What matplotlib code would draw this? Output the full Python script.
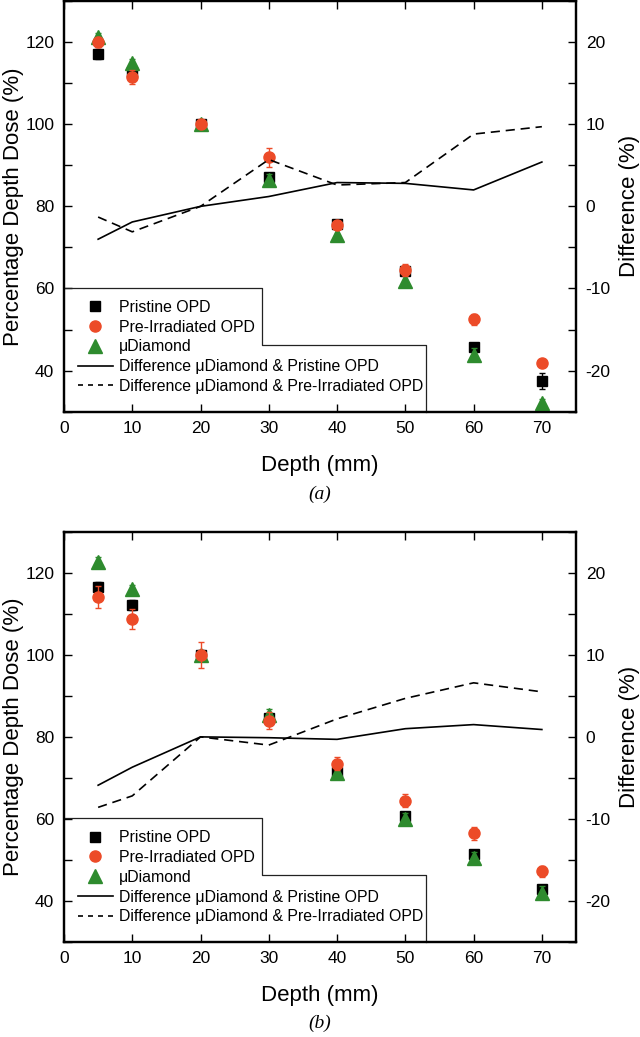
import matplotlib
matplotlib.use('Agg')

import matplotlib.pyplot as plt
from matplotlib.ticker import MultipleLocator
from matplotlib.lines import Line2D

plt.rcParams['font.family'] = ['Liberation Sans', 'DejaVu Sans']
plt.rcParams['axes.unicode_minus'] = False

# ---------------- data ----------------
depth = [5, 10, 20, 30, 40, 50, 60, 70]

# panel (a)
a_pristine = [117.2, 112.8, 100.0, 87.2, 75.8, 64.2, 45.7, 37.4]
a_pristine_err = [1.2, 1.0, 0.8, 1.0, 0.8, 1.0, 1.0, 1.9]
a_preirr = [120.0, 111.6, 100.0, 92.0, 75.4, 64.5, 52.5, 41.9]
a_preirr_err = [1.2, 1.7, 1.0, 2.3, 1.0, 1.5, 1.3, 0.8]
a_diamond = [121.2, 114.8, 100.0, 86.4, 73.0, 61.9, 43.9, 32.2]
a_diamond_err = [1.0, 1.0, 0.8, 1.5, 1.5, 1.5, 1.5, 1.0]
a_diff_pristine = [-4.0, -1.9, 0.0, 1.2, 2.9, 2.8, 2.0, 5.4]
a_diff_preirr = [-1.3, -3.1, 0.0, 5.7, 2.6, 2.9, 8.8, 9.7]

# panel (b)
b_pristine = [116.7, 112.1, 100.0, 84.7, 71.5, 60.7, 51.4, 42.9]
b_pristine_err = [1.2, 1.2, 1.2, 1.0, 0.8, 1.0, 1.0, 1.0]
b_preirr = [114.2, 108.8, 100.0, 84.0, 73.4, 64.4, 56.5, 47.2]
b_preirr_err = [2.7, 2.5, 3.1, 2.0, 1.6, 1.6, 1.6, 1.3]
b_diamond = [122.8, 116.1, 100.0, 85.4, 71.1, 60.0, 50.4, 42.0]
b_diamond_err = [1.0, 1.0, 1.0, 1.5, 1.5, 1.5, 1.5, 1.5]
b_diff_pristine = [-5.9, -3.7, 0.0, -0.1, -0.3, 1.0, 1.5, 0.9]
b_diff_preirr = [-8.6, -7.2, 0.0, -1.0, 2.2, 4.7, 6.6, 5.5]

labels = ['Pristine OPD', 'Pre-Irradiated OPD', 'μDiamond',
          'Difference μDiamond & Pristine OPD',
          'Difference μDiamond & Pre-Irradiated OPD']

RED = '#EC4B28'
GREEN = '#2E8B2E'


def draw_panel(fig, rect, pristine, pristine_err, preirr, preirr_err,
               diamond, diamond_err, diff_pristine, diff_preirr):
    ax = fig.add_axes(rect)
    ax2 = ax.twinx()

    ax.errorbar(depth, pristine, yerr=pristine_err, fmt='s', ms=7,
                color='black', ecolor='black', elinewidth=1, capsize=2.5,
                capthick=1, zorder=3)
    ax.errorbar(depth, diamond, yerr=diamond_err, fmt='^', ms=9.5,
                color=GREEN, ecolor=GREEN, elinewidth=1, capsize=2.5,
                capthick=1, zorder=4)
    ax.errorbar(depth, preirr, yerr=preirr_err, fmt='o', ms=8,
                color=RED, ecolor=RED, elinewidth=1, capsize=2.5,
                capthick=1, zorder=5)

    ax2.plot(depth, diff_pristine, color='black', lw=1.2)
    ax2.plot(depth, diff_preirr, color='black', lw=1.2, ls='--', dashes=(5.5, 3.5))

    ax.set_xlim(0, 75)
    ax.set_ylim(30, 130)
    ax2.set_ylim(-25, 25)
    ax.xaxis.set_major_locator(MultipleLocator(10))
    ax.yaxis.set_major_locator(MultipleLocator(20))
    ax.yaxis.set_minor_locator(MultipleLocator(10))
    ax2.yaxis.set_major_locator(MultipleLocator(10))
    ax2.yaxis.set_minor_locator(MultipleLocator(5))

    ax.tick_params(which='both', direction='in', length=5.5, width=1,
                   top=True, right=False, labelsize=12.5, pad=7)
    ax2.tick_params(which='both', direction='in', length=5.5, width=1,
                    labelsize=12.5, pad=7)
    for a in (ax, ax2):
        for s in a.spines.values():
            s.set_linewidth(1.6)

    ax.set_xlabel('Depth (mm)', fontsize=16)
    ax.xaxis.set_label_coords(0.5, -0.106)
    ax.set_ylabel('Percentage Depth Dose (%)', fontsize=16, va='center')
    ax.yaxis.set_label_coords(-50 / 512, 0.5)
    ax2.set_ylabel('Difference (%)', fontsize=16, va='center')
    ax2.yaxis.set_label_coords(1 + 54 / 512, 0.5)

    handles = [
        Line2D([], [], ls='none', marker='s', ms=7, color='black'),
        Line2D([], [], ls='none', marker='o', ms=8, color=RED),
        Line2D([], [], ls='none', marker='^', ms=9.5, color=GREEN),
        Line2D([], [], color='black', lw=1.2),
        Line2D([], [], color='black', lw=1.2, ls='--', dashes=(3, 3)),
    ]
    ax2.legend(handles, labels, loc='upper left', bbox_to_anchor=(0.027, 0.272),
               frameon=False, fontsize=11.4, borderpad=0, borderaxespad=0,
               handlelength=2.2, handletextpad=0.4, labelspacing=0.3)

    # stepped legend outline as drawn by the original software
    ax2.plot([0, 0.386, 0.386, 0.708, 0.708], [0.302, 0.302, 0.162, 0.162, 0],
             transform=ax2.transAxes, color='#222222', lw=0.9, clip_on=False)
    return ax


fig = plt.figure(figsize=(6.4, 10.37), dpi=100)

draw_panel(fig, [0.1, 0.603, 0.8, 0.396], a_pristine, a_pristine_err,
           a_preirr, a_preirr_err, a_diamond, a_diamond_err,
           a_diff_pristine, a_diff_preirr)
draw_panel(fig, [0.1, 0.0919, 0.8, 0.395], b_pristine, b_pristine_err,
           b_preirr, b_preirr_err, b_diamond, b_diamond_err,
           b_diff_pristine, b_diff_preirr)

fig.text(0.5, 0.5236, '(a)', ha='center', va='center', fontsize=14,
         family='Liberation Serif', style='italic')
fig.text(0.5, 0.0135, '(b)', ha='center', va='center', fontsize=14,
         family='Liberation Serif', style='italic')

fig.savefig('out.png', dpi=100)
plt.close(fig)
